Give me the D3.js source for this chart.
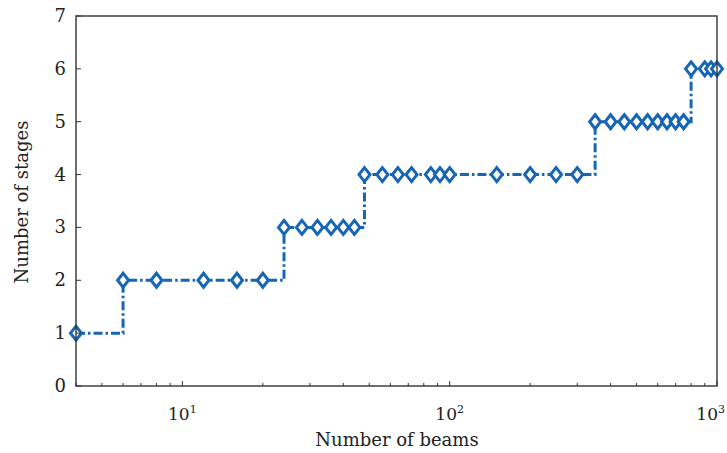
<!DOCTYPE html>
<html>
<head>
<meta charset="utf-8">
<script src="https://cdn.jsdelivr.net/npm/d3@7"></script>
<style>
  body { margin: 0; background: #fff; }
  svg { display: block; }
  text { font-family: "DejaVu Serif", "Liberation Serif", serif; fill: #222; }
</style>
</head>
<body>
<svg id="chart" width="727" height="453"></svg>
<script>
const beams  = [4, 6, 8, 12, 16, 20, 24, 28, 32, 36, 40, 44, 48, 56, 64, 72, 85, 92, 100, 150, 200, 250, 300, 350, 400, 450, 500, 550, 600, 650, 700, 750, 800, 900, 950, 1000];
const stages = [1, 2, 2, 2, 2, 2, 3, 3, 3, 3, 3, 3, 4, 4, 4, 4, 4, 4, 4, 4, 4, 4, 4, 5, 5, 5, 5, 5, 5, 5, 5, 5, 6, 6, 6, 6];
const yTicks = [0, 1, 2, 3, 4, 5, 6, 7];
const xMajor = [10, 100, 1000];
const xLabel = "Number of beams";
const yLabel = "Number of stages";

const data = beams.map((b, i) => ({ x: b, y: stages[i] }));

const margin = { left: 76, right: 10, top: 16, bottom: 67 };
const W = 727, H = 453;
const svg = d3.select("#chart");
const color = "#1766b5";
const axisColor = "#333";

const x = d3.scaleLog().domain([4, 1000]).range([margin.left, W - margin.right]);
const y = d3.scaleLinear().domain([0, 7]).range([H - margin.bottom, margin.top]);

const x0 = x.range()[0], x1 = x.range()[1], y0 = y.range()[0], y1 = y.range()[1];

// minor ticks
const minor = [];
for (let d = 1; d <= 100; d *= 10) for (let k = 2; k <= 9; k++) { const v = k * d; if (v >= 4 && v < 1000) minor.push(v); }

const g = svg.append("g");

// line
const line = d3.line().x(d => x(d.x)).y(d => y(d.y)).curve(d3.curveStepAfter);
g.append("path").datum(data)
  .attr("d", line)
  .attr("fill", "none")
  .attr("stroke", color)
  .attr("stroke-width", 3)
  .attr("stroke-dasharray", "9,3,2.5,3");

// markers
const dw = 5.5, dh = 7;
g.selectAll("path.m").data(data).enter().append("path")
  .attr("class", "m")
  .attr("d", d => { const cx = x(d.x), cy = y(d.y); return `M${cx},${cy - dh}L${cx + dw},${cy}L${cx},${cy + dh}L${cx - dw},${cy}Z`; })
  .attr("fill", "#fff")
  .attr("stroke", color)
  .attr("stroke-width", 3);

// frame
svg.append("rect").attr("x", x0).attr("y", y1).attr("width", x1 - x0).attr("height", y0 - y1)
  .attr("fill", "none").attr("stroke", axisColor).attr("stroke-width", 1.4);

// x ticks
svg.selectAll("line.xmin").data(minor).enter().append("line")
  .attr("x1", d => x(d)).attr("x2", d => x(d)).attr("y1", y0).attr("y2", y0 - 3)
  .attr("stroke", axisColor).attr("stroke-width", 1);
svg.selectAll("line.xmaj").data(xMajor).enter().append("line")
  .attr("x1", d => x(d)).attr("x2", d => x(d)).attr("y1", y0).attr("y2", y0 - 5)
  .attr("stroke", axisColor).attr("stroke-width", 1);

// y ticks
svg.selectAll("line.yt").data(yTicks).enter().append("line")
  .attr("x1", x0).attr("x2", x0 + 5).attr("y1", d => y(d)).attr("y2", d => y(d))
  .attr("stroke", axisColor).attr("stroke-width", 1);

svg.selectAll("text.yl").data(yTicks).enter().append("text")
  .attr("x", x0 - 10).attr("y", d => y(d) + 6)
  .attr("text-anchor", "end").attr("font-size", 18)
  .text(d => d);

// x tick labels
const xl = svg.selectAll("text.xl").data(xMajor).enter().append("text")
  .attr("x", d => d === 1000 ? W - 2 : x(d)).attr("y", 420)
  .attr("text-anchor", d => d === 1000 ? "end" : "middle").attr("font-size", 17);
xl.append("tspan").text("10");
xl.append("tspan").attr("dy", -7).attr("font-size", 11).text(d => Math.round(Math.log10(d)));

// axis titles
svg.append("text").attr("x", 397).attr("y", 446).attr("text-anchor", "middle").attr("font-size", 18).text(xLabel);
svg.append("text").attr("transform", "translate(28,202) rotate(-90)").attr("text-anchor", "middle").attr("font-size", 18).text(yLabel);
</script>
</body>
</html>
